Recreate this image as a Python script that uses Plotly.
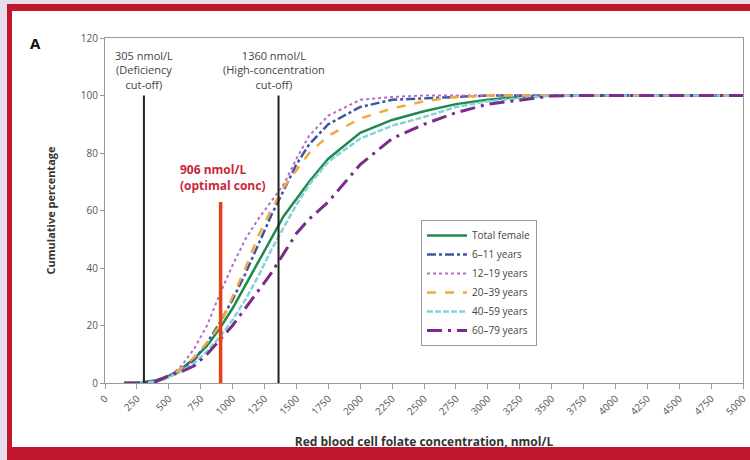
import plotly.graph_objects as go

conc = [150, 250, 400, 500, 600, 700, 800, 900, 1000, 1100, 1200, 1300, 1400, 1500,
        1600, 1750, 2000, 2250, 2500, 2750, 3000, 3250, 3500, 3750, 4000, 4500, 5000]

total_female = [0, 0, 1, 2.5, 5, 8.5, 13, 19, 26, 34, 42, 50, 58, 64,
                70, 78, 87, 91.5, 94.5, 97, 98.5, 99.5, 100, 100, 100, 100, 100]
y6_11 = [0, 0, 0.5, 2, 4.5, 8, 14, 21, 29, 38, 48, 58, 67, 76,
         83, 90, 96, 98.5, 99, 99.5, 100, 100, 100, 100, 100, 100, 100]
y12_19 = [0, 0, 0.5, 2, 6, 12, 20, 31, 41, 50, 57, 63, 69, 78,
          86, 93, 98.5, 99.5, 100, 100, 100, 100, 100, 100, 100, 100, 100]
y20_39 = [0, 0, 0.5, 2, 5, 9, 14, 20, 30, 40, 51, 60, 68, 74,
          80, 86, 92, 95.5, 98, 99.5, 100, 100, 100, 100, 100, 100, 100]
y40_59 = [0, 0, 0.5, 2, 4, 7, 11, 16, 22, 29, 37, 46, 54, 62,
          69, 77, 85, 89.5, 92.5, 96, 98, 99, 100, 100, 100, 100, 100]
y60_79 = [0, 0, 0.5, 2.5, 4, 6, 10, 15, 20, 26, 32, 38, 45, 52,
          57, 63, 76, 85, 90, 94, 97, 98.5, 99.8, 100, 100, 100, 100]

series_names = ["Total female", "6–11 years", "12–19 years", "20–39 years", "40–59 years", "60–79 years"]
series_values = [total_female, y6_11, y12_19, y20_39, y40_59, y60_79]
series_colors = ["#1f8a4c", "#3a56a5", "#b56ccf", "#f2a93b", "#84d3d6", "#7b2b8c"]
series_dash = ["solid", "dashdot", "dot", "dash", "6px,2px", "longdashdot"]
series_width = [2.5, 2.5, 2, 2.5, 2.5, 3]

deficiency_cutoff = 305
high_cutoff = 1360
optimal_conc = 906

x_ticks = list(range(0, 5001, 250))
y_ticks = list(range(0, 121, 20))

fig = go.Figure()
for name, vals, col, dash, w in zip(series_names, series_values, series_colors, series_dash, series_width):
    fig.add_trace(go.Scatter(x=conc, y=vals, mode="lines", name=name,
                             line=dict(color=col, dash=dash, width=w)))

# Page frame (paper coordinates; plot area = x 105..743 px, y 38..383 px)
def px_x(p):
    return (p - 105) / 638.0

def px_y(p):
    return (383 - p) / 345.0

shapes = [
    dict(type="rect", xref="paper", yref="paper", layer="below",
         x0=px_x(7), x1=px_x(760), y0=px_y(470), y1=px_y(4),
         fillcolor="#c0172f", line=dict(width=0)),
    dict(type="rect", xref="paper", yref="paper", layer="below",
         x0=px_x(12), x1=px_x(760), y0=px_y(447), y1=px_y(11),
         fillcolor="white", line=dict(width=0)),
    dict(type="line", xref="x", yref="y", x0=deficiency_cutoff, x1=deficiency_cutoff,
         y0=0, y1=100, line=dict(color="#222", width=2)),
    dict(type="line", xref="x", yref="y", x0=high_cutoff, x1=high_cutoff,
         y0=0, y1=100, line=dict(color="#222", width=2)),
    dict(type="line", xref="x", yref="y", x0=optimal_conc, x1=optimal_conc,
         y0=-0.7, y1=63, line=dict(color="#e8401c", width=3.5)),
]

annotations = [
    dict(x=deficiency_cutoff, y=100, xref="x", yref="y", yanchor="bottom", yshift=2,
         text="305 nmol/L<br>(Deficiency<br>cut-off)", showarrow=False,
         font=dict(size=11, color="#444", family="Open Sans"), align="center"),
    dict(x=high_cutoff, y=100, xref="x", yref="y", yanchor="bottom", yshift=2, xshift=-5,
         text="1360 nmol/L<br>(High-concentration<br>cut-off)", showarrow=False,
         font=dict(size=11, color="#444", family="Open Sans"), align="center"),
    dict(x=572, y=71.5, xref="x", yref="y", xanchor="left", yanchor="middle",
         text="<b>906 nmol/L<br>(optimal conc)</b>", showarrow=False,
         font=dict(size=12, color="#c8283a", family="Open Sans"), align="left"),
    dict(x=px_x(28), y=px_y(31), xref="paper", yref="paper", text="<b>A</b>",
         showarrow=False, font=dict(size=15, color="#111", family="Open Sans")),
]

fig.update_layout(
    width=750, height=460,
    margin=dict(l=105, r=7, t=38, b=77, autoexpand=False),
    paper_bgcolor="#e9dcea",
    plot_bgcolor="white",
    font=dict(family="Open Sans", color="#555"),
    shapes=shapes,
    annotations=annotations,
    legend=dict(x=px_x(421), y=px_y(220), xanchor="left", yanchor="top",
                bgcolor="white", bordercolor="#999", borderwidth=1,
                font=dict(size=10, color="#444"), itemwidth=40),
    xaxis=dict(range=[0, 5000], tickvals=x_ticks, ticktext=[str(v) for v in x_ticks],
               tickangle=-45, showgrid=False, zeroline=False, automargin=False,
               showline=True, linecolor="#999", linewidth=1, mirror=True,
               ticks="outside", ticklen=5, tickcolor="#999",
               tickfont=dict(size=10, color="#555"),
               title=dict(text="<b>Red blood cell folate concentration, nmol/L</b>",
                          font=dict(size=12, color="#333"), standoff=20)),
    yaxis=dict(range=[0, 120], tickvals=y_ticks, showgrid=False, zeroline=False, automargin=False,
               showline=True, linecolor="#999", linewidth=1, mirror=True,
               ticks="outside", ticklen=4, tickcolor="#999",
               tickfont=dict(size=10, color="#555"),
               title=dict(text="<b>Cumulative percentage</b>",
                          font=dict(size=11, color="#333"), standoff=22)),
)

fig.write_html("out.html", config={"displayModeBar": False})

# remove default page margin so the 750x460 figure fills the window exactly
with open("out.html", "r", encoding="utf-8") as f:
    html = f.read()
html = html.replace("<head>", "<head><style>html,body{margin:0;padding:0;overflow:hidden;}</style>", 1)
with open("out.html", "w", encoding="utf-8") as f:
    f.write(html)
